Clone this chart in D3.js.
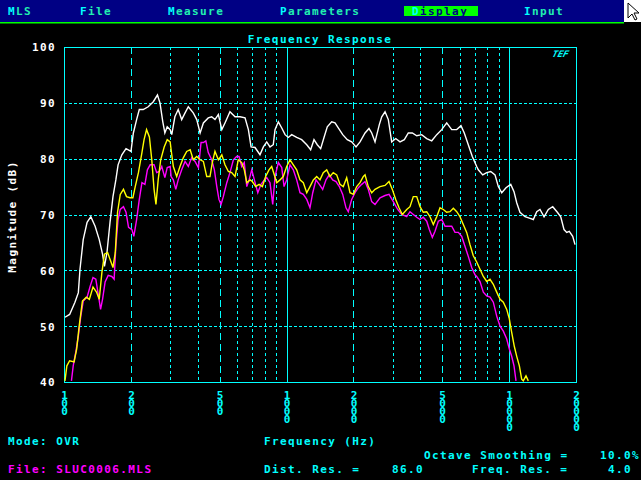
<!DOCTYPE html>
<html>
<head>
<meta charset="utf-8">
<script src="https://cdn.jsdelivr.net/npm/d3@7"></script>
<style>
  html, body { margin: 0; padding: 0; background: #000; }
  svg { display: block; }
  text { font-family: "DejaVu Sans Mono", monospace; font-weight: bold; font-size: 11px; letter-spacing: 1.4px; }
  text.vert { writing-mode: vertical-rl; text-orientation: upright; letter-spacing: -5px; }
</style>
</head>
<body>
<svg id="chart" width="641" height="480"></svg>
<script>
// ---- chart values ----
const menuItems = ["MLS", "File", "Measure", "Parameters", "Display", "Input"];
const yTicks = [40, 50, 60, 70, 80, 90, 100];
const xLabelTicks = [100, 200, 500, 1000, 2000, 5000, 10000, 20000];
const xLongDash = [200, 500, 2000, 5000];
const xShortDash = [300, 400, 600, 700, 800, 900, 3000, 4000, 6000, 7000, 8000, 9000];
const xSolid = [1000, 10000];

// white trace
const whiteHz = [101,106,112,116,118,122,127,132,138,144,149,152,156,161,166,171,175,182,190,200,
  205,212,218,227,239,252,263,270,278,284,291,300,305,315,326,338,350,362,381,395,
  409,423,445,461,477,494,512,529,557,587,618,651,674,693,722,760,787,815,843,872,
  888,919,952,985,1019,1055,1111,1170,1233,1284,1329,1375,1424,1474,1525,1596,1652,1709,1789,1876,
  1963,2053,2140,2254,2348,2415,2499,2613,2679,2772,2868,2970,3096,3237,3384,3527,3676,3848,4052,4267,
  4494,4733,4984,5248,5527,5821,6084,6294,6561,6677,6839,7157,7278,7617,7940,8276,8651,8952,9273,9694,
  10180,10530,10830,11200,11800,12430,12860,13320,13780,14370,15020,15720,16490,17080,17670,18170,18660,19330,19800];
const whiteDb = [51.6,52.1,54.3,56,60.2,65.5,68.6,69.6,67.9,65.5,62.9,60.7,63.2,68.6,73.2,76.2,78.9,80.7,81.8,81.3,
  84.6,87,88.8,88.8,89.3,90.2,91.4,90,86.6,84.6,85.7,85.2,84.3,87.5,88.8,87,88.2,89.3,88.2,87,
  84.6,86.4,87.3,87.5,87,87.9,85.2,86.4,88.4,87.5,87.5,87.3,85.2,82.1,82,80.7,82.1,83,82.1,82.5,
  85.2,86.6,85.5,84.3,83.8,84.3,83.8,83.4,82.5,81.6,83.4,82.5,81.8,83.8,85.7,86.6,86.4,85.5,84.3,83.4,
  83,82.1,83,84.6,85.4,84.6,83,86.1,87.5,88.4,87,83,83.6,83,83.4,84.6,84.6,84.1,84.3,83.6,
  83.2,84.3,85.2,86.4,85.2,85.2,85.9,84.6,82.5,81.6,80.4,78.6,78,77.1,77.5,77.7,77.1,75,73.9,74.8,
  75.4,74.1,72.1,70.4,69.6,69.3,69.1,70.5,70.9,69.6,70.9,71.4,70.4,69.6,67.3,66.8,67,66.1,64.6];

// yellow trace
const yellowHz = [101,103,106,111,114,117,121,126,130,135,140,144,148,152,157,161,166,170,174,179,
  185,191,198,204,209,216,224,229,235,242,248,254,259,265,272,282,291,300,303,310,
  321,332,344,356,369,381,395,409,423,438,453,464,477,494,512,529,548,567,587,607,
  629,646,663,686,702,727,753,779,806,834,858,872,904,935,967,1002,1037,1073,1111,1150,
  1190,1233,1275,1320,1367,1414,1463,1516,1568,1622,1681,1739,1800,1864,1929,1996,2068,2140,2215,2254,
  2331,2415,2499,2632,2772,2889,2989,3096,3204,3315,3469,3589,3714,3848,3981,4119,4267,4415,4569,4733,
  4897,5067,5248,5430,5620,5821,6021,6230,6453,6677,6910,7157,7407,7665,7940,8215,8499,8805,9112,9428,
  9766,10030,10280,10560,10830,11130,11400,11590,11920,12210];
const yellowDb = [40.2,42.9,43.8,43.6,45.9,50,54.5,55.2,54.8,57,56.1,54.8,59.6,62.9,63.2,62,60.5,63.2,70.4,73.6,
  74.5,73.2,73,73,75,77.5,81.1,83.4,85.2,83.9,79.8,74.5,71.8,76.2,79.8,82.1,83.4,83,81.6,78.6,
  76.8,78.6,80.2,81.3,81.6,79.8,80.4,79.8,79.5,76.8,76.8,79.3,81.3,79.8,80.7,78.9,77.7,77.5,76.8,79.8,
  79.3,78,75.7,76.2,75.9,75,75.4,75,76.8,78,78.6,77.7,75.7,76.2,76.8,78.6,79.8,78.9,78,76.2,
  75.7,73.9,75,76.2,76.8,76.2,77.5,78,76.8,77.5,77.1,75.4,75,76.6,73.9,73.6,75,75.7,76.8,77.1,
  75,73.9,74.5,75,75.2,75.9,74.5,72.7,71.2,70,70.9,71.4,73.2,73.2,71.4,70.4,70.5,69.6,68.2,69.6,
  71.2,70.9,70.4,70.5,71.1,70.5,69.6,68.2,66.8,64.6,62.6,61.5,60.2,58.9,58,58.4,57.5,56.1,54.8,54.3,
  53,51.3,48.9,46.4,44.6,42.9,40.5,40.2,41.1,40.2];

// magenta trace
const magentaHz = [108,110,113,116,119,122,127,131,135,139,143,146,149,153,158,164,168,171,175,179,
  185,190,195,202,206,212,218,224,231,237,244,254,261,268,275,284,291,300,303,310,
  318,326,338,350,362,375,388,402,413,423,434,445,461,474,486,497,508,520,539,557,
  577,597,612,629,646,663,679,698,717,743,768,795,815,843,867,888,919,952,975,1002,
  1037,1073,1111,1150,1190,1233,1275,1312,1357,1404,1454,1505,1557,1612,1669,1727,1789,1851,1895,1963,
  2032,2103,2178,2254,2331,2415,2499,2632,2772,2889,3020,3161,3295,3469,3589,3714,3848,3981,4119,4267,
  4384,4522,4650,4811,4984,5157,5336,5527,5719,5918,6128,6340,6561,6797,7033,7157,7407,7665,7940,8215,
  8499,8805,9112,9428,9766,10030,10280,10530,10750];
const magentaDb = [40.2,42.9,45.4,48.2,51.8,54.5,55.2,57.1,58.7,58.4,55.4,53,54.8,57.9,59.1,58.9,58.4,64.3,69.1,70.9,
  71.4,70.4,67.7,67.3,66.1,69.1,72.7,75.7,75.4,78,78.9,78.9,77.5,77.7,78.6,76.6,78.4,78.6,76.8,76.2,
  74.5,76.2,78,79.5,78.6,80.2,79.5,78.4,82.9,82.9,83.2,81.1,79.8,78,75,72.7,71.8,73.2,75.7,77.5,
  79.8,80.4,80.4,78.6,79.3,75,76.2,78,76.2,73.9,75.4,76.2,76.6,75.7,71.8,76.8,79.3,78.4,75,76.2,
  78.9,78,76.2,73.9,73.6,72.7,71.2,73.9,76.2,75.4,74.5,76.2,77.1,76.2,75.9,75,73.6,71.2,70.5,72.7,
  73.9,74.8,75.4,75.9,74.5,72.3,71.8,73,73.4,73.6,72.3,70.9,70,69.6,70.5,70,69.5,69.1,69.5,68.8,
  67.3,65.9,67,68.8,69.1,67.9,67.9,67.9,66.8,66.8,66.1,64.3,62.5,60.5,59.2,58.9,58,56.1,55.4,55.2,
  54.3,51.8,50,49.1,47.7,45.9,44.6,42.9,40.2];

// ---- layout ----
const CYAN = "#00ffff", GREEN = "#00ff00", NAVY = "#000084";
const plot = {left: 64, right: 576, top: 47, bottom: 382};

const svg = d3.select("#chart");
svg.append("rect").attr("width", 641).attr("height", 480).attr("fill", "#000");

// menu bar
svg.append("rect").attr("x", 0).attr("y", 0).attr("width", 641).attr("height", 22).attr("fill", NAVY);
svg.append("rect").attr("x", 0).attr("y", 22).attr("width", 624).attr("height", 1.5).attr("fill", GREEN);
svg.append("rect").attr("x", 404).attr("y", 6).attr("width", 74).attr("height", 10).attr("fill", GREEN);

const menuX = [8, 80, 168, 280, 412, 524];
menuItems.forEach((m, i) => {
  const t = svg.append("text").attr("x", menuX[i]).attr("y", 15);
  t.append("tspan").attr("fill", CYAN).text(m[0]);
  t.append("tspan").attr("fill", m === "Display" ? NAVY : "#20f0b0").text(m.slice(1));
});

// mouse pointer in the corner
svg.append("rect").attr("x", 624).attr("y", 0).attr("width", 17).attr("height", 22).attr("fill", "#fff");
svg.append("path")
  .attr("d", "M628,3 L628,18 L632,14 L635,20 L637,19 L634,13 L639,13 Z")
  .attr("fill", "#fff").attr("stroke", "#000").attr("stroke-width", 1);

// title
svg.append("text").attr("x", 320).attr("y", 43).attr("text-anchor", "middle")
  .attr("fill", CYAN).text("Frequency Response");

// scales
const x = d3.scaleLog().domain([100, 20000]).range([plot.left, plot.right]);
const y = d3.scaleLinear().domain([40, 100]).range([plot.bottom, plot.top]);
const px = v => Math.round(v) + 0.5;

const grid = svg.append("g").attr("shape-rendering", "crispEdges");

// horizontal grid
grid.selectAll("line.h").data(yTicks.filter(d => d > 40 && d < 100)).join("line")
  .attr("x1", plot.left).attr("x2", plot.right)
  .attr("y1", d => px(y(d))).attr("y2", d => px(y(d)))
  .attr("stroke", CYAN).attr("stroke-dasharray", "3,2");

// vertical grid
grid.selectAll("line.vl").data(xLongDash).enter().append("line")
  .attr("x1", d => px(x(d))).attr("x2", d => px(x(d)))
  .attr("y1", plot.top).attr("y2", plot.bottom)
  .attr("stroke", CYAN).attr("stroke-dasharray", "7,4");
grid.selectAll("line.vs").data(xShortDash).enter().append("line")
  .attr("x1", d => px(x(d))).attr("x2", d => px(x(d)))
  .attr("y1", plot.top).attr("y2", plot.bottom)
  .attr("stroke", CYAN).attr("stroke-dasharray", "3,3");
grid.selectAll("line.vsolid").data(xSolid).enter().append("line")
  .attr("x1", d => px(x(d))).attr("x2", d => px(x(d)))
  .attr("y1", plot.top).attr("y2", plot.bottom)
  .attr("stroke", CYAN);

// frame
grid.append("rect")
  .attr("x", plot.left + 0.5).attr("y", plot.top + 0.5)
  .attr("width", plot.right - plot.left).attr("height", plot.bottom - plot.top)
  .attr("fill", "none").attr("stroke", CYAN);

// logo
svg.append("text").attr("x", 551).attr("y", 57)
  .attr("transform", "skewX(-25)").attr("transform-origin", "560 57")
  .attr("fill", CYAN).style("font-size", "9px").style("letter-spacing", "0px")
  .text("TEF");

// y axis labels
const yAxis = svg.append("g").attr("transform", `translate(${plot.left},0)`)
  .call(d3.axisLeft(y).tickValues(yTicks).tickSize(0).tickPadding(8));
yAxis.select(".domain").remove();
yAxis.selectAll("text").attr("fill", "#fff")
  .style("font-family", "DejaVu Sans Mono").style("font-size", "11px").attr("dy", "0.35em");

svg.append("text")
  .attr("transform", `translate(16,${(plot.top + plot.bottom) / 2 + 2}) rotate(-90)`)
  .attr("text-anchor", "middle").attr("fill", "#fff").text("Magnitude (dB)");

// x tick labels, digits stacked vertically
svg.append("g").selectAll("text").data(xLabelTicks).join("text")
  .attr("class", "vert")
  .attr("x", d => x(d) + 0.5)
  .attr("y", 389)
  .attr("fill", CYAN)
  .text(d => String(d));

// traces
const clip = svg.append("clipPath").attr("id", "plotclip");
clip.append("rect").attr("x", plot.left).attr("y", plot.top)
  .attr("width", plot.right - plot.left).attr("height", plot.bottom - plot.top + 1);

const line = d3.line().x(d => x(d[0])).y(d => y(d[1]));
const traces = [
  {hz: whiteHz, db: whiteDb, color: "#ffffff"},
  {hz: magentaHz, db: magentaDb, color: "#ff00ff"},
  {hz: yellowHz, db: yellowDb, color: "#ffff00"}
];
const tg = svg.append("g").attr("clip-path", "url(#plotclip)");
traces.forEach(s => {
  tg.append("path")
    .datum(d3.zip(s.hz, s.db))
    .attr("d", line)
    .attr("fill", "none")
    .attr("stroke", s.color)
    .attr("stroke-width", 1.4)
    .attr("stroke-linejoin", "miter");
});

// bottom status text
const info = [
  {x: 8,   y: 445, c: CYAN,      t: "Mode: OVR"},
  {x: 264, y: 445, c: CYAN,      t: "Frequency (Hz)"},
  {x: 424, y: 459, c: CYAN,      t: "Octave Smoothing ="},
  {x: 600, y: 459, c: CYAN,      t: "10.0%"},
  {x: 8,   y: 473, c: "#ff00ff", t: "File: SLUC0006.MLS"},
  {x: 264, y: 473, c: CYAN,      t: "Dist. Res. ="},
  {x: 392, y: 473, c: CYAN,      t: "86.0"},
  {x: 472, y: 473, c: CYAN,      t: "Freq. Res. ="},
  {x: 608, y: 473, c: CYAN,      t: "4.0"}
];
svg.append("g").selectAll("text").data(info).join("text")
  .attr("x", d => d.x).attr("y", d => d.y).attr("fill", d => d.c).text(d => d.t);
</script>
</body>
</html>
